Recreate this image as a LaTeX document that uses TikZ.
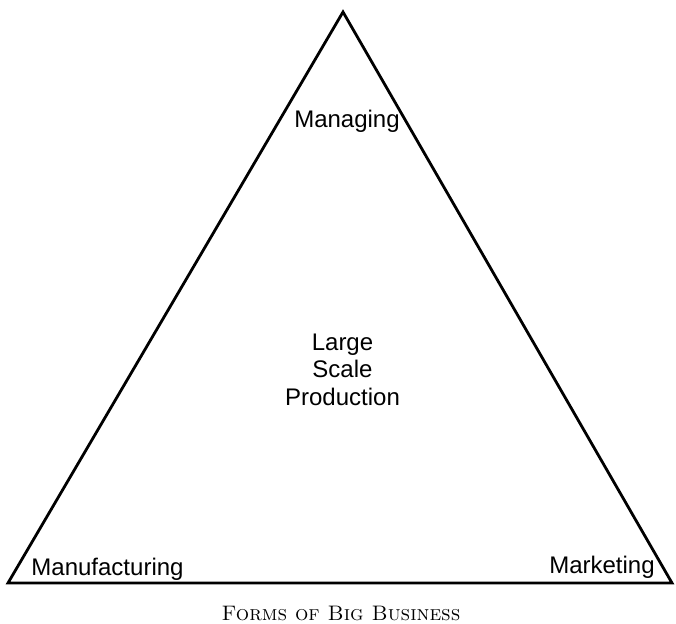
\documentclass[tikz,border=0pt]{standalone}
\usepackage{fontspec}
\usepackage{tikz}
\newfontfamily\labelfont{Liberation Sans}

\begin{document}
\begin{tikzpicture}[x=1pt,y=-1pt,
		corner/.style={anchor=base,font=\labelfont\fontsize{24}{27.5}\selectfont},
		caption/.style={anchor=base,font=\fontsize{21}{24}\selectfont}]
				\useasboundingbox (0,0) rectangle (676,623);
				\coordinate (apex) at (343,12);
				\coordinate (leftend) at (8,583);
				\coordinate (rightend) at (672,583);
				\draw[line width=2.8pt, line join=miter] (apex) -- (leftend) -- (rightend) -- cycle;
				\node[corner] (managing) at (347,127) {Managing};
				\node[corner, align=center] (production) at (342.5,405) {Large\\Scale\\Production};
				\node[corner] (manufacturing) at (107.5,575) {Manufacturing};
				\node[corner] (marketing) at (602,573) {Marketing};
				\node[caption] (title) at (341,620) {\textsc{Forms of Big Business}};
			\end{tikzpicture}
\end{document}
